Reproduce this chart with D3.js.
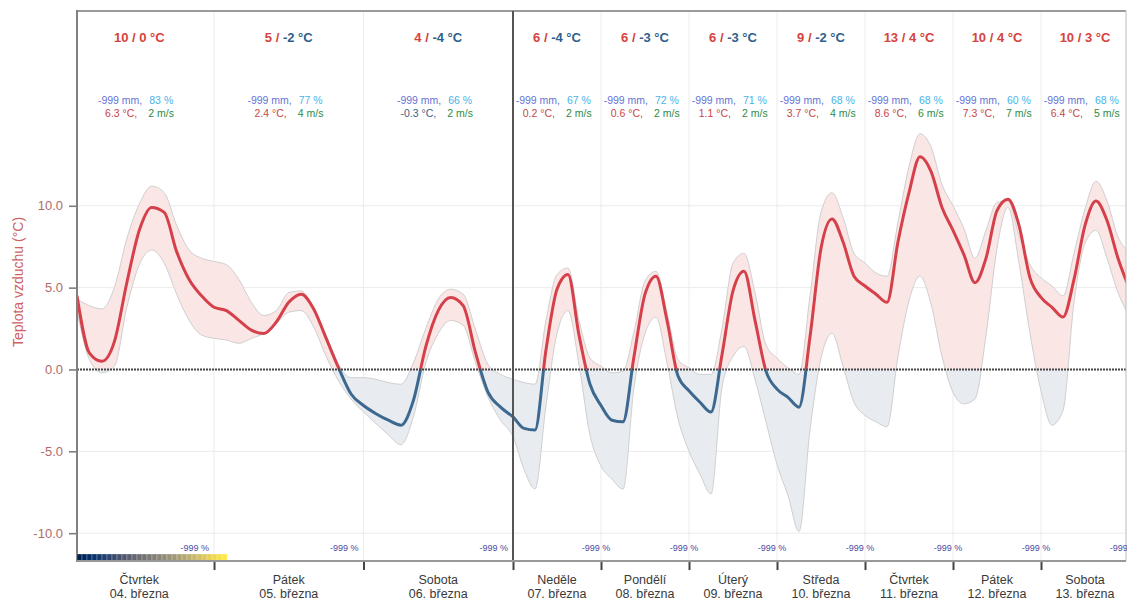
<!DOCTYPE html>
<html><head><meta charset="utf-8">
<script src="https://cdn.jsdelivr.net/npm/d3@7"></script>
<style>
body{margin:0;background:#fff;}
svg{display:block;font-family:"Liberation Sans",Arial,sans-serif;}
</style>
</head><body>
<svg id="chart" width="1127" height="610"></svg>
<script>
// ---- data ----
const hours = [2,4,6,8,10,12,14,16,18,20,22,24,26,28,30,32,34,36,38,40,42,44,46,48,50,52,54,56,58,60,62,64,66,68,70,72,
  75,78,81,84,87,90,93,96,99,102,105,108,111,114,117,120,123,126,129,132,135,138,141,144,147,150,153,156,159,162,165,168,
  171,174,177,180,183,186,189,192,195,198,201,204,207,210,213,216,219,222,225,228,231,234,237,240];
const tMean = [4.5,1.0,0.5,1.7,5.3,8.5,9.9,9.6,7.2,5.5,4.5,3.8,3.6,3.0,2.4,2.2,2.9,4.1,4.6,3.7,1.9,0.1,-1.5,-2.2,-2.7,-3.1,-3.4,-1.9,1.4,3.6,4.4,3.9,1.0,-1.4,-2.3,-2.9,
  -3.6,-3.7,1.2,4.9,5.8,2.1,-0.9,-2.2,-3.1,-3.2,0.8,4.6,5.7,3.0,-0.4,-1.3,-2.0,-2.6,0.9,4.8,6.0,3.0,-0.1,-1.2,-1.7,-2.3,2.0,7.4,9.2,7.8,5.7,5.1,
  4.6,4.1,7.8,10.8,13.0,12.1,9.9,8.5,7.0,5.3,6.8,9.7,10.4,8.8,5.6,4.4,3.8,3.2,5.5,8.8,10.3,9.1,6.8,5.0];
const tUpper = [4.3,3.9,3.7,5.0,8.0,10.1,11.2,10.8,8.8,7.3,6.8,6.6,6.4,5.5,4.1,3.3,3.6,4.7,4.8,3.7,2.1,0.3,-0.5,-0.5,-0.6,-0.8,-0.9,0.4,2.5,4.3,4.9,4.6,2.4,0.3,-0.3,-0.6,
  -0.8,-0.9,3.0,5.8,6.2,3.0,0.7,0.2,-0.2,-0.1,2.3,5.4,6.0,3.5,0.6,0.1,-0.3,-0.3,2.5,6.5,7.1,4.7,1.5,0.7,0.1,-0.3,4.5,9.6,10.8,9.3,7.1,6.5,
  5.9,5.7,9.0,12.4,14.4,13.6,11.3,10.0,8.6,6.8,8.5,10.2,10.3,8.2,6.4,5.6,5.1,4.5,7.1,9.8,11.5,10.3,8.1,7.2];
const tLower = [3.6,0.6,-0.2,0.2,3.8,6.4,7.3,6.5,4.6,3.0,2.1,1.9,1.8,1.6,1.9,2.2,2.8,3.5,3.6,2.6,0.8,-0.7,-1.8,-2.6,-3.3,-4.0,-4.6,-2.9,0.4,2.2,3.0,2.7,0.4,-1.7,-3.1,-4.1,
  -6.1,-7.3,-2.2,2.2,3.6,0.3,-4.0,-5.9,-6.7,-7.3,-1.1,2.2,3.2,0.4,-3.0,-5.0,-6.4,-7.6,-1.1,0.8,1.4,-0.6,-3.2,-5.8,-7.7,-9.9,-3.7,0.7,2.2,0.2,-2.0,-2.8,
  -3.2,-3.5,0.8,4.2,5.7,4.0,0.8,-1.4,-2.1,-1.8,2.1,7.4,9.9,6.5,2.2,-1.3,-3.4,-2.5,4.1,7.7,8.5,6.8,4.7,3.3];

const dayNames = ["Čtvrtek","Pátek","Sobota","Neděle","Pondělí","Úterý","Středa","Čtvrtek","Pátek","Sobota"];
const dayDates = ["04. března","05. března","06. března","07. března","08. března","09. března","10. března","11. března","12. března","13. března"];
const dayMax = [10,5,4,6,6,6,9,13,10,10];
const dayMin = [0,-2,-4,-4,-3,-3,-2,4,4,3];
const dayPrecip = [-999,-999,-999,-999,-999,-999,-999,-999,-999,-999];
const dayHumidity = [83,77,66,67,72,71,68,68,60,68];
const dayAvgTemp = [6.3,2.4,-0.3,0.2,0.6,1.1,3.7,8.6,7.3,6.4];
const dayWind = [2,4,2,2,2,2,4,6,7,5];
const dayRainProb = [-999,-999,-999,-999,-999,-999,-999,-999,-999,-999];
const dayStart = [0,24,48,72,96,120,144,168,192,216];
const yTicks = [10,5,0,-5,-10];

// ---- layout ----
const svg = d3.select("#chart");
const L = 77, R = 1126, T = 11, B = 561;
const x = d3.scaleLinear().domain([2,72,240]).range([L,513,1129]);
const y = d3.scaleLinear().domain([-11.7,21.9]).range([B,T]);
const red = "#d5414b", blue = "#3d6890";
const txtRed = "#d6423d", txtBlue = "#2f5f8c";

const defs = svg.append("defs");
defs.append("clipPath").attr("id","plot").append("rect").attr("x",L).attr("y",T).attr("width",R-L).attr("height",B-T);
defs.append("clipPath").attr("id","above").append("rect").attr("x",L).attr("y",T).attr("width",R-L).attr("height",y(0)-T);
defs.append("clipPath").attr("id","below").append("rect").attr("x",L).attr("y",y(0)).attr("width",R-L).attr("height",B-y(0));

// gridlines
const grid = svg.append("g");
grid.selectAll("line.h").data(yTicks.filter(d=>d!==0)).join("line")
  .attr("x1",L).attr("x2",R).attr("y1",d=>y(d)).attr("y2",d=>y(d))
  .attr("stroke","#ebebeb").attr("stroke-width",1);
grid.selectAll("line.v").data(dayStart.slice(1).filter(d=>d!==72)).join("line")
  .attr("x1",d=>x(d)).attr("x2",d=>x(d)).attr("y1",T).attr("y2",B)
  .attr("stroke","#ececec").attr("stroke-width",1);

const pts = hours.map((h,i)=>({h, m:tMean[i], u:tUpper[i], l:tLower[i]}));
const curve = d3.curveMonotoneX;
const area = d3.area().x(d=>x(d.h)).y0(d=>y(d.l)).y1(d=>y(d.u)).curve(curve);
const lineU = d3.line().x(d=>x(d.h)).y(d=>y(d.u)).curve(curve);
const lineL = d3.line().x(d=>x(d.h)).y(d=>y(d.l)).curve(curve);
const lineM = d3.line().x(d=>x(d.h)).y(d=>y(d.m)).curve(curve);

const plot = svg.append("g").attr("clip-path","url(#plot)");
plot.append("g").attr("clip-path","url(#above)").append("path").attr("d",area(pts)).attr("fill","#fbe6e6");
plot.append("g").attr("clip-path","url(#below)").append("path").attr("d",area(pts)).attr("fill","#e8ecf0");
plot.append("path").attr("d",lineU(pts)).attr("fill","none").attr("stroke","#cfcfcf").attr("stroke-width",1);
plot.append("path").attr("d",lineL(pts)).attr("fill","none").attr("stroke","#cfcfcf").attr("stroke-width",1);

// zero line
svg.append("line").attr("x1",L).attr("x2",R).attr("y1",y(0)).attr("y2",y(0))
  .attr("stroke","#444").attr("stroke-width",2).attr("stroke-dasharray","2,1");

plot.append("g").attr("clip-path","url(#above)").append("path").attr("d",lineM(pts))
  .attr("fill","none").attr("stroke",red).attr("stroke-width",3).attr("stroke-linejoin","round");
plot.append("g").attr("clip-path","url(#below)").append("path").attr("d",lineM(pts))
  .attr("fill","none").attr("stroke",blue).attr("stroke-width",3).attr("stroke-linejoin","round");

// frame
svg.append("line").attr("x1",L).attr("x2",R).attr("y1",T).attr("y2",T).attr("stroke","#9a9a9a").attr("stroke-width",2);
svg.append("line").attr("x1",R).attr("x2",R).attr("y1",T).attr("y2",B).attr("stroke","#bbb").attr("stroke-width",1);
svg.append("line").attr("x1",x(72)).attr("x2",x(72)).attr("y1",T).attr("y2",B).attr("stroke","#555").attr("stroke-width",2);

// y axis
const yAxis = svg.append("g").attr("transform",`translate(${L},0)`)
  .call(d3.axisLeft(y).tickValues(yTicks).tickFormat(d=>d.toFixed(1)).tickSize(8).tickPadding(6));
yAxis.select(".domain").remove();
yAxis.selectAll(".tick line").attr("stroke","#777").attr("stroke-width",1.5);
yAxis.selectAll(".tick text").attr("fill","#b06a6a").attr("font-size",13).attr("font-family","Liberation Sans, Arial, sans-serif");
svg.append("line").attr("x1",L).attr("x2",L).attr("y1",T-1).attr("y2",B+1).attr("stroke","#808080").attr("stroke-width",2);
svg.append("text").attr("transform",`translate(23,${(y(-11.7)+y(21.9))/2 - 4}) rotate(-90)`)
  .attr("text-anchor","middle").attr("font-size",14).attr("fill","#cc6262").text("Teplota vzduchu (°C)");

// color bar
const barN = 30, barW = (227-L)/barN;
svg.append("g").selectAll("rect").data(d3.range(barN)).join("rect")
  .attr("x",i=>L+i*barW).attr("y",554).attr("width",barW).attr("height",7)
  .attr("fill",i=>d3.interpolateCividis(i/(barN-1))).attr("stroke","#ffffff").attr("stroke-width",0.4).attr("stroke-opacity",0.6);

// x axis
const xAxis = svg.append("g").attr("transform",`translate(0,${B})`)
  .call(d3.axisBottom(x).tickValues(dayStart.slice(1).concat([240])).tickFormat("").tickSize(9));
xAxis.select(".domain").remove();
xAxis.selectAll(".tick line").attr("stroke","#444").attr("stroke-width",2);
svg.append("line").attr("x1",L).attr("x2",R).attr("y1",B).attr("y2",B).attr("stroke","#999").attr("stroke-width",2);

const labels = svg.append("g").attr("font-size",12.5).attr("fill","#3a3a3a").attr("text-anchor","middle");
dayNames.forEach((n,i)=>{
  const cx = x(dayStart[i]+12);
  labels.append("text").attr("x",cx).attr("y",584).text(n);
  labels.append("text").attr("x",cx).attr("y",598).text(dayDates[i]);
});

// rain probability labels
dayRainProb.forEach((p,i)=>{
  const bx = x(dayStart[i]+24);
  const wide = i < 3;
  svg.append("text").attr("x", bx-5).attr("y",551)
    .attr("text-anchor", wide ? "end" : "middle").attr("font-size",9).attr("fill","#4b4ba0")
    .text(`${p} %`);
});

// header texts
const head = svg.append("g");
dayNames.forEach((n,i)=>{
  const cx = x(dayStart[i]+12);
  const t1 = head.append("text").attr("x",cx).attr("y",42).attr("text-anchor","middle")
    .attr("font-size",13).attr("font-weight","bold");
  t1.append("tspan").attr("fill",dayMax[i]>=0?txtRed:txtBlue).text(`${dayMax[i]} / `);
  t1.append("tspan").attr("fill",dayMin[i]>=0?txtRed:txtBlue).text(`${dayMin[i]} °C`);

  head.append("text").attr("x",cx+3).attr("y",104).attr("text-anchor","end").attr("font-size",10.5)
    .attr("fill","#6674d4").text(`${dayPrecip[i]} mm,`);
  head.append("text").attr("x",cx+10).attr("y",104).attr("text-anchor","start").attr("font-size",10.5)
    .attr("fill","#4ab3e6").text(`${dayHumidity[i]} %`);
  head.append("text").attr("x",cx-2).attr("y",117).attr("text-anchor","end").attr("font-size",10.5)
    .attr("fill",dayAvgTemp[i]>=0?"#c94646":"#3b5f86").text(`${dayAvgTemp[i].toFixed(1)} °C,`);
  head.append("text").attr("x",cx+9).attr("y",117).attr("text-anchor","start").attr("font-size",10.5)
    .attr("fill","#2e8b45").text(`${dayWind[i]} m/s`);
});
</script>
</body></html>
